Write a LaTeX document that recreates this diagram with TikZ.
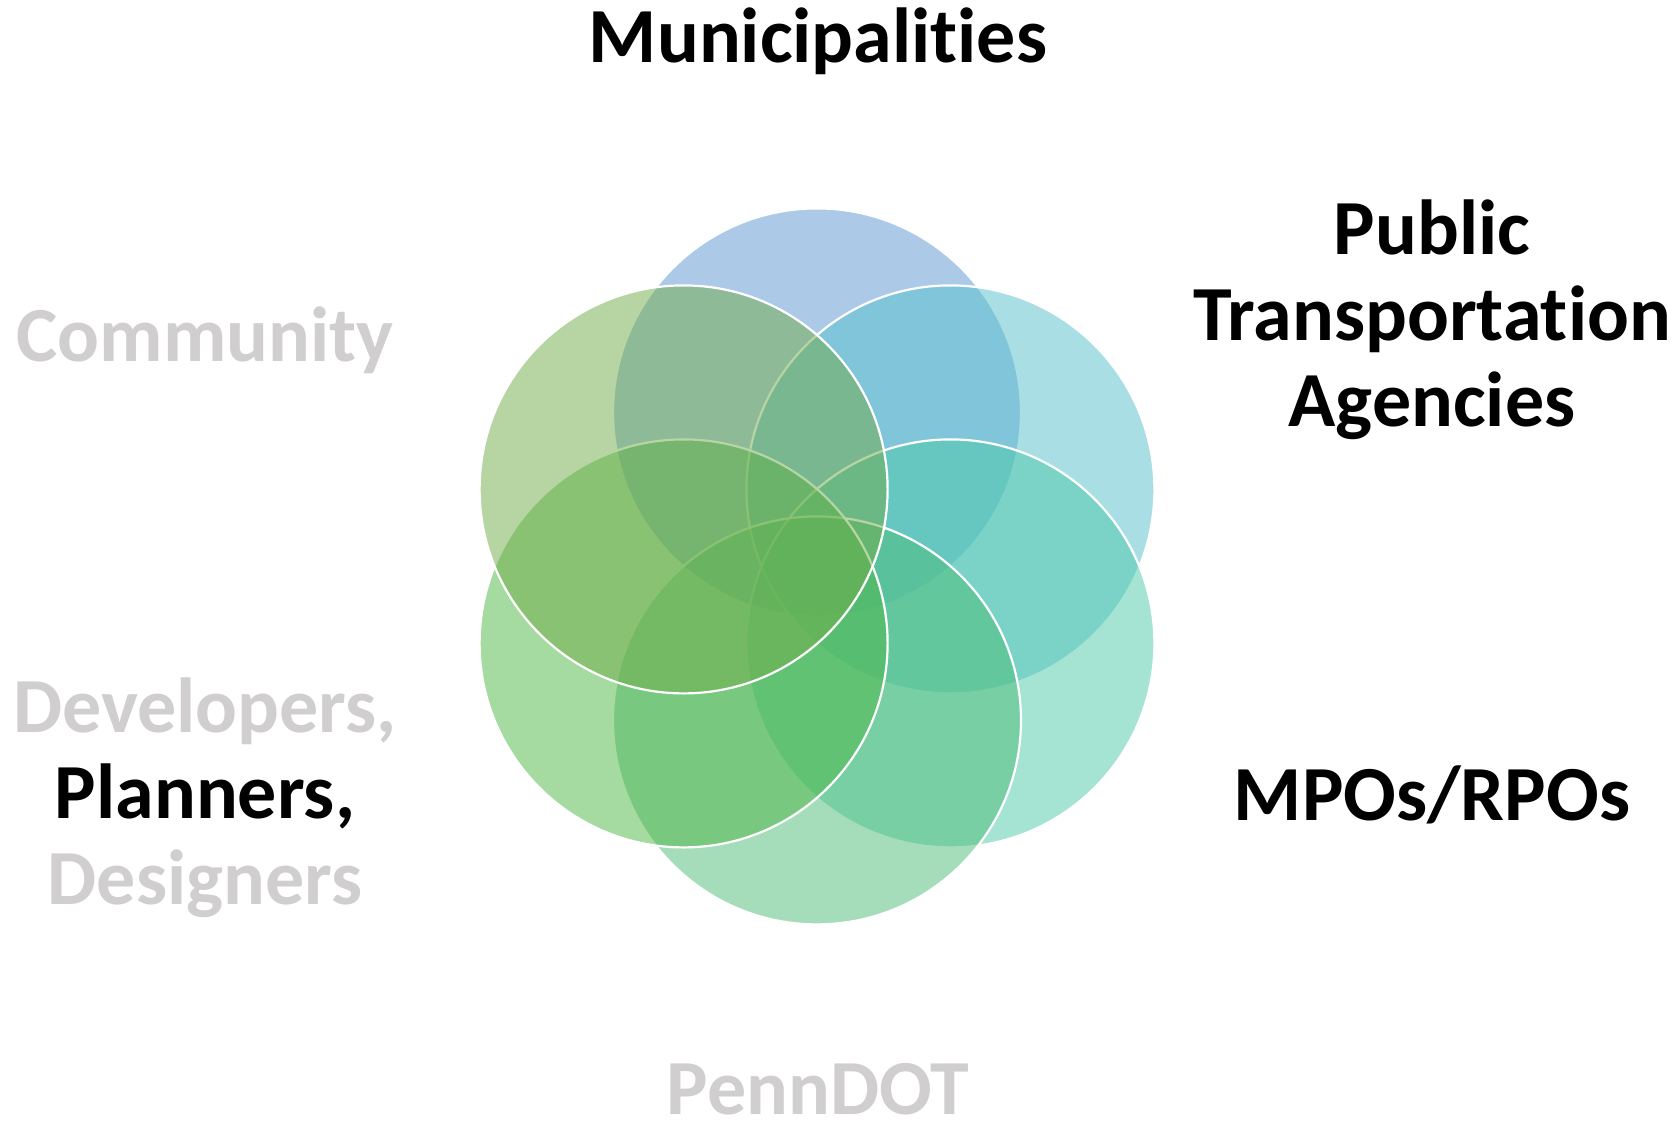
\documentclass[tikz,border=0pt]{standalone}
\usepackage{fontspec}
\setmainfont{Carlito}[Ligatures={NoCommon,NoDiscretionary,NoContextual}]
\definecolor{cTop}{RGB}{91,151,211}
\definecolor{cUR}{RGB}{85,193,203}
\definecolor{cLR}{RGB}{77,201,169}
\definecolor{cBot}{RGB}{77,189,119}
\definecolor{cLL}{RGB}{77,183,69}
\definecolor{cUL}{RGB}{113,171,73}
\definecolor{lightgrey}{RGB}{208,206,206}
\begin{document}
\begin{tikzpicture}[x=1pt,y=-1pt,
  petal/.style={fill opacity=0.5, draw=white, draw opacity=1, line width=2.2pt},
  lbl/.style={anchor=base, inner sep=0pt, font=\bfseries\fontsize{78}{86}\selectfont},
  dark/.style={lbl, text=black},
  pale/.style={lbl, text=lightgrey}]
\useasboundingbox (0,0) rectangle (1677,1121);
\fill[white] (0,0) rectangle (1677,1121);
% circle centres
\coordinate (pTop) at (817,412.4);
\coordinate (pUR)  at (950.4,489.4);
\coordinate (pLR)  at (950.4,643.4);
\coordinate (pBot) at (817,720.4);
\coordinate (pLL)  at (683.6,643.4);
\coordinate (pUL)  at (683.6,489.4);
\path[petal, fill=cTop] (pTop) circle (204);
\path[petal, fill=cUR]  (pUR)  circle (204);
\path[petal, fill=cLR]  (pLR)  circle (204);
\path[petal, fill=cBot] (pBot) circle (204);
\path[petal, fill=cLL]  (pLL)  circle (204);
\path[petal, fill=cUL]  (pUL)  circle (204);
% labels
\node[dark] (muni) at (818,63) {Municipalities};
\node[dark] (pub1) at (1432,254) {Public};
\node[dark] (pub2) at (1432,340) {Transportation};
\node[dark] (pub3) at (1432,426) {Agencies};
\node[dark] (mpo) at (1432,820) {MPOs/RPOs};
\node[pale, text depth=0pt] (penn) at (818,1114) {PennDOT};
\node[pale] (dev1) at (205,732) {Developers,};
\node[dark] (dev2) at (205,818) {Planners,};
\node[pale] (dev3) at (205,904) {Designers};
\node[pale] (comm) at (205,361) {Community};
\end{tikzpicture}
\end{document}
